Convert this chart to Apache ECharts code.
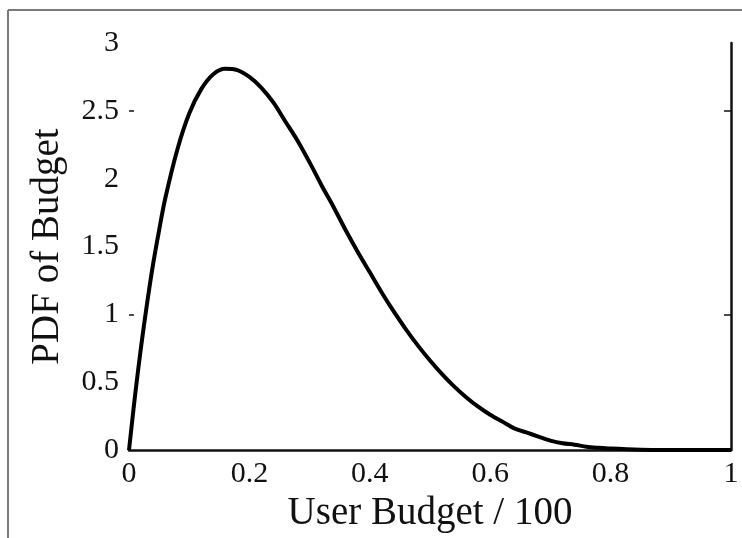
<!DOCTYPE html>
<html>
<head>
<meta charset="utf-8">
<script src="https://cdn.jsdelivr.net/npm/echarts@6/dist/echarts.min.js"></script>
<style>
html,body{margin:0;padding:0;background:#fff;}
#chart{width:742px;height:538px;}
</style>
</head>
<body>
<div id="chart"></div>
<script>
// Data
var budgetX = [0, 0.01, 0.02, 0.03, 0.04, 0.05, 0.06, 0.08, 0.10, 0.12, 0.14, 0.16, 0.18, 0.20, 0.22, 0.24, 0.26, 0.28, 0.30, 0.32, 0.34, 0.36, 0.38, 0.40, 0.42, 0.44, 0.46, 0.48, 0.50, 0.52, 0.54, 0.56, 0.58, 0.60, 0.62, 0.64, 0.66, 0.68, 0.70, 0.72, 0.74, 0.76, 0.78, 0.80, 0.85, 0.90, 0.95, 1.0];
var pdfY = [0, 0.40, 0.76, 1.08, 1.37, 1.62, 1.85, 2.21, 2.48, 2.66, 2.77, 2.81, 2.80, 2.75, 2.67, 2.56, 2.42, 2.28, 2.12, 1.95, 1.79, 1.62, 1.46, 1.31, 1.16, 1.02, 0.89, 0.77, 0.66, 0.56, 0.47, 0.39, 0.32, 0.26, 0.21, 0.16, 0.13, 0.10, 0.07, 0.05, 0.04, 0.025, 0.017, 0.011, 0.003, 0.0005, 0, 0];
var xTicks = [0, 0.2, 0.4, 0.6, 0.8, 1];
var yTicks = [0, 0.5, 1, 1.5, 2, 2.5, 3];
var yVisibleTicks = [1, 2.5];
var xTitle = 'User Budget / 100';
var yTitle = 'PDF of Budget';

var points = budgetX.map(function (x, i) { return [x, pdfY[i]]; });
var serif = '"Liberation Serif", "DejaVu Serif", serif';

var chart = echarts.init(document.getElementById('chart'), null, {renderer: 'canvas'});
chart.setOption({
  backgroundColor: '#ffffff',
  animation: false,
  grid: {left: 129, right: 11, top: 43, bottom: 85, containLabel: false},
  graphic: [
    {type: 'line', shape: {x1: 8, y1: 10, x2: 742, y2: 10}, style: {stroke: '#7a7a7a', lineWidth: 2}},
    {type: 'line', shape: {x1: 8, y1: 10, x2: 8, y2: 538}, style: {stroke: '#7a7a7a', lineWidth: 2}}
  ],
  xAxis: {
    type: 'value', min: 0, max: 1, interval: 0.2,
    name: xTitle, nameLocation: 'middle', nameGap: 37,
    nameTextStyle: {fontFamily: serif, fontSize: 39, color: '#111'},
    axisLine: {show: true, onZero: false, lineStyle: {color: '#111', width: 2.5}},
    axisTick: {show: false},
    splitLine: {show: false},
    axisLabel: {fontFamily: serif, fontSize: 30, color: '#111', margin: 9,
      customValues: xTicks,
      formatter: function (v) { return String(v); }}
  },
  yAxis: [
    {
      type: 'value', min: 0, max: 3, interval: 0.5, position: 'left',
      name: yTitle, nameLocation: 'middle', nameGap: 62, nameRotate: 90,
      nameTextStyle: {fontFamily: serif, fontSize: 39, color: '#111'},
      axisLine: {show: false},
      axisTick: {show: true, inside: true, length: 5, customValues: yVisibleTicks, lineStyle: {color: '#111', width: 1.5}},
      splitLine: {show: false},
      axisLabel: {fontFamily: serif, fontSize: 30, color: '#111', margin: 10,
        customValues: yTicks,
        formatter: function (v) { return String(v); }}
    },
    {
      type: 'value', min: 0, max: 3, interval: 0.5, position: 'right',
      axisLine: {show: true, lineStyle: {color: '#111', width: 2.5}},
      axisTick: {show: true, inside: true, length: 7, customValues: yVisibleTicks, lineStyle: {color: '#111', width: 1.5}},
      splitLine: {show: false},
      axisLabel: {show: false}
    }
  ],
  series: [{
    type: 'line', data: points, yAxisIndex: 0, showSymbol: false, smooth: 0.3,
    lineStyle: {color: '#000', width: 4}, z: 5
  }]
});
</script>
</body>
</html>
